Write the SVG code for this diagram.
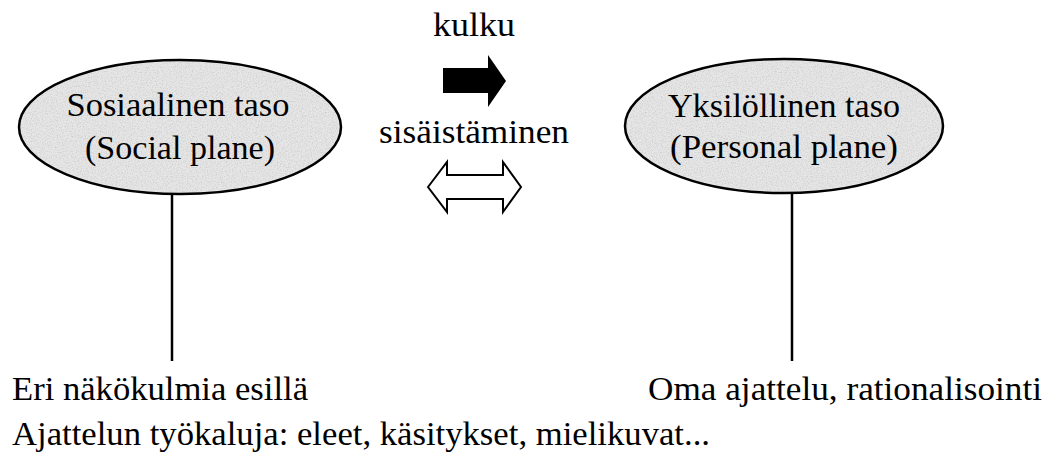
<svg xmlns="http://www.w3.org/2000/svg" width="1050" height="466" viewBox="0 0 1050 466">
<style>
text{font-family:"Liberation Serif","DejaVu Serif",serif;font-size:34px;fill:#000}
.c{text-anchor:middle}
.plane{fill:#e6e6e6;stroke:#000;stroke-width:2.5}
.grain{stroke:none}
.conn{stroke:#000;stroke-width:2.5;fill:none}
</style>
<defs>
<filter id="noise" x="0" y="0" width="100%" height="100%">
<feTurbulence type="fractalNoise" baseFrequency="0.8" numOctaves="2" seed="3" result="n"/>
<feColorMatrix in="n" type="matrix" values="0 0 0 0 0.6 0 0 0 0 0.6 0 0 0 0 0.6 0 0 0 -2.2 1.25" result="g"/>
<feComposite in="g" in2="SourceGraphic" operator="in"/>
</filter>
</defs>
<rect width="1050" height="466" fill="#fff"/>
<g id="connectors">
<line class="conn" x1="172" y1="194" x2="172" y2="361"/>
<line class="conn" x1="792" y1="193" x2="792" y2="361"/>
</g>
<g id="social">
<ellipse class="plane" cx="180" cy="127" rx="161" ry="67"/>
<ellipse class="grain" cx="180" cy="127" rx="159" ry="65" fill="#fff" filter="url(#noise)"/>
<text class="c" x="178" y="116" textLength="223" lengthAdjust="spacingAndGlyphs">Sosiaalinen taso</text>
<text class="c" x="180" y="159" textLength="190" lengthAdjust="spacingAndGlyphs">(Social plane)</text>
</g>
<g id="personal">
<ellipse class="plane" cx="784" cy="126" rx="159" ry="67"/>
<ellipse class="grain" cx="784" cy="126" rx="157" ry="65" fill="#fff" filter="url(#noise)"/>
<text class="c" x="784" y="117" textLength="232" lengthAdjust="spacingAndGlyphs">Yksilöllinen taso</text>
<text class="c" x="784" y="158" textLength="228" lengthAdjust="spacingAndGlyphs">(Personal plane)</text>
</g>
<g id="kulku">
<text class="c" x="474" y="36" textLength="82" lengthAdjust="spacingAndGlyphs">kulku</text>
<path d="M443,68 L488,68 L488,55 L506,81 L488,107 L488,93 L443,93 Z" fill="#000"/>
</g>
<g id="sisaistaminen">
<text class="c" x="474" y="143" textLength="190" lengthAdjust="spacingAndGlyphs">sisäistäminen</text>
<path d="M428,187 L447,162 L447,175 L503,175 L503,162 L521,187 L503,212 L503,199 L447,199 L447,212 Z" fill="#fff" stroke="#000" stroke-width="2"/>
</g>
<g id="labels">
<text x="12" y="400" textLength="296" lengthAdjust="spacingAndGlyphs">Eri näkökulmia esillä</text>
<text x="648" y="400" textLength="394" lengthAdjust="spacingAndGlyphs">Oma ajattelu, rationalisointi</text>
<text x="12" y="445" textLength="698" lengthAdjust="spacingAndGlyphs">Ajattelun työkaluja: eleet, käsitykset, mielikuvat...</text>
</g>
</svg>
